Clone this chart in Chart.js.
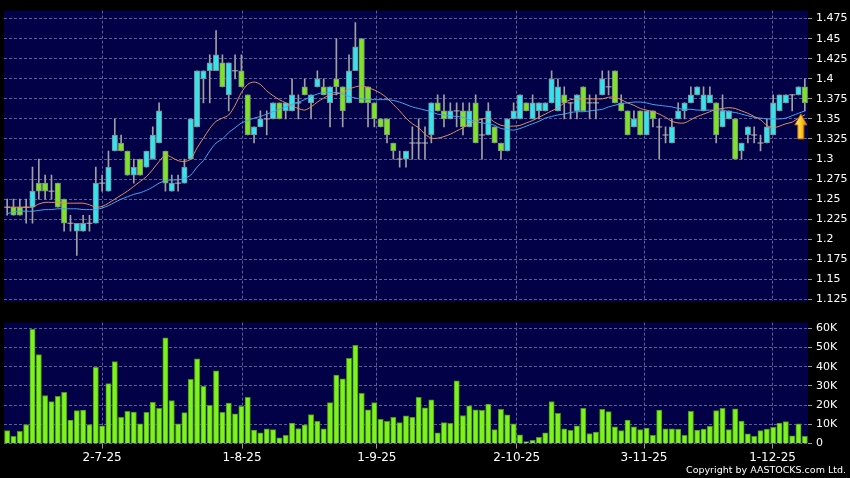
<!DOCTYPE html>
<html><head><meta charset="utf-8">
<script src="https://cdn.jsdelivr.net/npm/chart.js@4.4.1/dist/chart.umd.min.js"></script>
<style>
html,body{margin:0;padding:0;background:#000;width:850px;height:478px;overflow:hidden}
#wrap{position:relative;width:850px;height:478px;background:#000}
canvas{position:absolute;left:0}
#c1{top:0}
#c2{top:312px}
#copy{position:absolute;right:4px;top:464px;color:#fff;font:9.5px "DejaVu Sans",sans-serif;white-space:nowrap}
</style></head><body>
<div id="wrap">
<canvas id="c1" width="850" height="312"></canvas>
<canvas id="c2" width="850" height="166"></canvas>
<div id="copy">Copyright by AASTOCKS.com Ltd.</div>
</div>
<script>
const openP = [
1.24,1.24,1.24,1.24,1.24,1.27,1.27,1.26,1.27,1.25,
1.22,1.21,1.21,1.22,1.22,1.27,1.26,1.31,1.32,1.31,
1.28,1.30,1.29,1.30,1.32,1.31,1.26,1.27,1.27,1.30,
1.34,1.40,1.41,1.41,1.42,1.38,1.41,1.41,1.38,1.33,
1.34,1.35,1.35,1.37,1.36,1.36,1.37,1.39,1.37,1.39,
1.39,1.37,1.40,1.39,1.37,1.41,1.45,1.39,1.37,1.35,
1.35,1.32,1.30,1.30,1.32,1.32,1.32,1.33,1.37,1.36,
1.35,1.36,1.36,1.34,1.37,1.33,1.33,1.34,1.32,1.31,
1.35,1.35,1.37,1.35,1.36,1.36,1.37,1.36,1.38,1.37,
1.36,1.39,1.37,1.37,1.38,1.39,1.41,1.37,1.36,1.34,
1.36,1.33,1.36,1.34,1.33,1.32,1.35,1.36,1.37,1.38,
1.36,1.37,1.37,1.34,1.35,1.35,1.31,1.33,1.33,1.32,
1.32,1.33,1.36,1.37,1.38,1.38,1.39];
const highP = [
1.25,1.25,1.25,1.25,1.29,1.30,1.28,1.28,1.27,1.25,
1.23,1.22,1.23,1.23,1.29,1.28,1.31,1.35,1.33,1.31,
1.30,1.30,1.31,1.34,1.37,1.31,1.28,1.28,1.30,1.35,
1.41,1.41,1.43,1.46,1.43,1.42,1.43,1.43,1.38,1.34,
1.36,1.36,1.37,1.37,1.37,1.40,1.38,1.40,1.38,1.41,
1.40,1.39,1.45,1.39,1.43,1.47,1.45,1.39,1.37,1.35,
1.35,1.32,1.31,1.31,1.34,1.35,1.34,1.37,1.38,1.38,
1.37,1.37,1.37,1.37,1.38,1.35,1.37,1.34,1.32,1.35,
1.37,1.38,1.37,1.38,1.37,1.37,1.41,1.40,1.39,1.37,
1.38,1.39,1.38,1.38,1.41,1.41,1.41,1.38,1.36,1.36,
1.36,1.36,1.36,1.35,1.34,1.35,1.37,1.37,1.39,1.39,
1.39,1.39,1.37,1.38,1.36,1.35,1.32,1.34,1.34,1.33,
1.35,1.38,1.38,1.38,1.38,1.39,1.40];
const lowP = [
1.23,1.23,1.23,1.22,1.22,1.25,1.25,1.25,1.24,1.21,
1.21,1.18,1.21,1.21,1.22,1.26,1.26,1.31,1.31,1.28,
1.27,1.28,1.29,1.30,1.32,1.26,1.26,1.26,1.27,1.30,
1.34,1.37,1.37,1.41,1.39,1.36,1.40,1.39,1.33,1.32,
1.34,1.33,1.35,1.35,1.35,1.36,1.35,1.38,1.35,1.39,
1.38,1.34,1.38,1.34,1.37,1.41,1.37,1.34,1.34,1.34,
1.32,1.30,1.29,1.29,1.30,1.30,1.30,1.32,1.36,1.34,
1.35,1.34,1.33,1.34,1.32,1.30,1.33,1.32,1.30,1.31,
1.35,1.35,1.36,1.35,1.35,1.36,1.37,1.36,1.35,1.35,
1.35,1.36,1.35,1.35,1.38,1.38,1.37,1.36,1.33,1.34,
1.33,1.33,1.34,1.30,1.32,1.32,1.35,1.35,1.37,1.38,
1.36,1.37,1.32,1.34,1.35,1.30,1.30,1.32,1.32,1.31,
1.32,1.33,1.36,1.37,1.36,1.38,1.36];
const closeP = [
1.24,1.23,1.23,1.24,1.26,1.26,1.26,1.26,1.24,1.22,
1.22,1.22,1.22,1.22,1.27,1.27,1.29,1.33,1.31,1.28,
1.29,1.28,1.31,1.33,1.36,1.27,1.27,1.27,1.29,1.35,
1.41,1.41,1.42,1.43,1.39,1.42,1.41,1.39,1.33,1.34,
1.35,1.35,1.37,1.35,1.37,1.38,1.37,1.38,1.38,1.40,
1.38,1.39,1.39,1.36,1.41,1.44,1.37,1.37,1.35,1.34,
1.33,1.31,1.30,1.31,1.32,1.32,1.32,1.37,1.36,1.35,
1.36,1.36,1.34,1.36,1.32,1.33,1.36,1.32,1.31,1.35,
1.36,1.38,1.36,1.37,1.37,1.37,1.40,1.39,1.37,1.37,
1.38,1.36,1.37,1.37,1.40,1.39,1.37,1.36,1.33,1.35,
1.33,1.36,1.35,1.34,1.33,1.34,1.36,1.37,1.38,1.39,
1.38,1.38,1.33,1.36,1.36,1.30,1.32,1.34,1.33,1.32,
1.34,1.37,1.38,1.38,1.38,1.39,1.37];
const volume = [
6700,3700,6300,9900,59500,46400,25000,21800,24600,26600,
12200,17100,17400,9900,39700,9200,31200,42700,13600,16700,
16400,10200,16200,21400,18300,55000,22400,10200,16100,33400,
44100,29800,19900,37900,16200,21100,15400,19400,24000,7000,
5500,7700,7200,3000,4200,10700,7800,9700,15100,11600,
7700,21300,35700,33700,44400,51100,26200,17600,21300,12600,
11600,13700,10900,14400,13700,24100,18600,22800,5500,10900,
10500,32700,14600,19600,17600,17300,20600,7200,17800,14900,
10200,4500,1000,1700,3200,5500,21900,15700,7700,6800,
9200,18300,5200,6000,17800,16600,8700,6700,12200,8700,
7300,8000,4300,17400,7700,7700,7500,4200,16700,7000,
7500,9000,17100,18300,7200,18100,11700,5000,3700,6700,
7500,8400,10700,11400,4000,10200,3800];
const ma10 = [
1.24,1.24,1.24,1.24,1.24,1.244,1.246,1.246,1.246,1.245,
1.245,1.245,1.245,1.243,1.24,1.241,1.245,1.25,1.255,1.26,
1.266,1.272,1.278,1.287,1.297,1.305,1.302,1.298,1.297,1.30,
1.314,1.326,1.338,1.347,1.351,1.355,1.367,1.383,1.393,1.396,
1.393,1.385,1.379,1.374,1.37,1.366,1.363,1.361,1.365,1.371,
1.376,1.38,1.381,1.383,1.387,1.39,1.391,1.389,1.386,1.382,
1.376,1.368,1.36,1.351,1.344,1.339,1.331,1.326,1.326,1.328,
1.331,1.335,1.339,1.344,1.347,1.35,1.351,1.346,1.342,1.341,
1.341,1.342,1.345,1.348,1.352,1.356,1.36,1.364,1.37,1.374,
1.375,1.375,1.375,1.375,1.375,1.377,1.377,1.374,1.37,1.367,
1.363,1.361,1.359,1.356,1.352,1.347,1.345,1.345,1.349,1.353,
1.356,1.359,1.362,1.363,1.364,1.363,1.36,1.357,1.353,1.349,
1.342,1.339,1.341,1.344,1.346,1.351,1.355];
const ma20 = [
1.232,1.234,1.235,1.235,1.235,1.236,1.237,1.237,1.238,1.238,
1.238,1.238,1.237,1.237,1.237,1.239,1.242,1.246,1.25,1.253,
1.256,1.258,1.261,1.265,1.27,1.273,1.274,1.274,1.276,1.28,
1.29,1.298,1.31,1.32,1.325,1.333,1.339,1.345,1.348,1.351,
1.353,1.356,1.359,1.362,1.365,1.368,1.371,1.374,1.378,1.381,
1.383,1.383,1.383,1.381,1.378,1.376,1.375,1.374,1.374,1.374,
1.374,1.373,1.371,1.368,1.365,1.363,1.361,1.359,1.356,1.355,
1.354,1.353,1.352,1.349,1.347,1.345,1.344,1.342,1.338,1.337,
1.336,1.338,1.341,1.344,1.347,1.351,1.353,1.355,1.356,1.358,
1.359,1.359,1.36,1.361,1.362,1.365,1.367,1.369,1.37,1.371,
1.371,1.37,1.368,1.367,1.366,1.365,1.363,1.362,1.362,1.361,
1.361,1.361,1.361,1.361,1.359,1.358,1.356,1.354,1.352,1.351,
1.35,1.35,1.35,1.351,1.354,1.357,1.36];
const tickPos = [15.0, 37.1, 58.4, 80.5, 100.6, 120.9];
const tickLabels = ['2-7-25','1-8-25','1-9-25','2-10-25','3-11-25','1-12-25'];
const priceTicks = [1.125,1.15,1.175,1.2,1.225,1.25,1.275,1.3,1.325,1.35,1.375,1.4,1.425,1.45,1.475];
const volTicks = [0,10000,20000,30000,40000,50000,60000];

const UP = '#35e3ef', DOWN = '#7ee322', GRID = '#5e5e96', TICK = '#9a9a9a';
const N = closeP.length;

const bgPlugin = {id:'bg', beforeDraw(c){
  const {ctx, chartArea:a} = c;
  ctx.save();
  ctx.fillStyle = '#000'; ctx.fillRect(0,0,c.width,c.height);
  ctx.fillStyle = '#020046'; ctx.fillRect(a.left,a.top,a.right-a.left,a.bottom-a.top);
  ctx.restore();
}};
const arrowPlugin = {id:'arrow', afterDatasetsDraw(c){
  const ctx = c.ctx, xs = c.scales.x, ys = c.scales.y, n = N-1;
  const cx = xs.getPixelForValue(n) - 4;
  const top = ys.getPixelForValue(lowP[n]) + 3;
  const head = top + 11, bot = top + 25;
  ctx.save();
  const g = ctx.createLinearGradient(cx-6,0,cx+6,0);
  g.addColorStop(0,'#ffe98a'); g.addColorStop(0.5,'#ffc928'); g.addColorStop(1,'#d98a00');
  ctx.fillStyle = g; ctx.strokeStyle = '#b86e00'; ctx.lineWidth = 1;
  ctx.beginPath();
  ctx.moveTo(cx, top); ctx.lineTo(cx+6, head); ctx.lineTo(cx+3, head); ctx.lineTo(cx+3, bot);
  ctx.lineTo(cx-3, bot); ctx.lineTo(cx-3, head); ctx.lineTo(cx-6, head); ctx.closePath();
  ctx.fill(); ctx.stroke();
  ctx.restore();
}};

const bodies = [], bodyColors = [], dojis = [], wicks = [];
for (let i = 0; i < N; i++) {
  wicks.push({x:i, y:[lowP[i], highP[i]]});
  if (closeP[i] === openP[i]) dojis.push({x:i, y:closeP[i]});
  else { bodies.push({x:i, y:[openP[i], closeP[i]]}); bodyColors.push(closeP[i] > openP[i] ? UP : DOWN); }
}

const font11 = {family:'"DejaVu Sans", sans-serif', size:11};

new Chart(document.getElementById('c1'), {
  type:'bar',
  data:{datasets:[
    {type:'line', data: ma10.map((v,i)=>({x:i,y:v})), borderColor:'#e0905c', borderWidth:1, pointRadius:0, tension:0.3, order:0},
    {type:'line', data: ma20.map((v,i)=>({x:i,y:v})), borderColor:'#3ea8f0', borderWidth:1, pointRadius:0, tension:0.3, order:0},
    {type:'scatter', data: dojis, pointStyle:'line', pointRadius:3, borderColor:'#b8b8b8', borderWidth:1, order:1},
    {type:'bar', data: bodies, backgroundColor: bodyColors, borderColor:'#7d8b8b', borderWidth:1, borderSkipped:false, barThickness:5.5, grouped:false, order:2},
    {type:'bar', data: wicks, backgroundColor:'#a0a0a0', barThickness:1, grouped:false, order:3}
  ]},
  options:{
    responsive:false, animation:false, devicePixelRatio:1,
    layout:{padding:{left:4, top:5, right:0, bottom:6}, autoPadding:false},
    plugins:{legend:{display:false}, tooltip:{enabled:false}},
    scales:{
      x:{type:'linear', min:-0.5, max:N-0.5, offset:false,
        afterBuildTicks: s => { s.ticks = tickPos.map(v=>({value:v})); },
        ticks:{display:false},
        grid:{color:GRID, drawTicks:false, offset:false},
        border:{display:false, dash:[3,2]},
        afterFit: s => { s.height = 0; }
      },
      y:{type:'linear', position:'right', min:1.1226, max:1.485,
        afterBuildTicks: s => { s.ticks = priceTicks.map(v=>({value:v})); },
        ticks:{color:'#fff', font:font11, padding:4, callback: v => String(+(+v).toFixed(3))},
        grid:{color:GRID, tickColor:TICK, tickLength:4, tickBorderDash:[]},
        border:{display:false, dash:[3,2]},
        afterFit: s => { s.width = 42; }
      }
    }
  },
  plugins:[bgPlugin, arrowPlugin]
});

new Chart(document.getElementById('c2'), {
  type:'bar',
  data:{datasets:[
    {data: volume.map((v,i)=>({x:i,y:v})), backgroundColor:'#7df21c', borderColor:'#4a9418', borderWidth:1, barThickness:5.3, grouped:false}
  ]},
  options:{
    responsive:false, animation:false, devicePixelRatio:1,
    layout:{padding:{left:4, top:6, right:0, bottom:0}, autoPadding:false},
    plugins:{legend:{display:false}, tooltip:{enabled:false}},
    scales:{
      x:{type:'linear', min:-0.5, max:N-0.5, offset:false,
        afterBuildTicks: s => { s.ticks = tickPos.map(v=>({value:v})); },
        ticks:{color:'#fff', font:{family:'"DejaVu Sans", sans-serif', size:12}, padding:2, maxRotation:0, autoSkip:false,
          callback: v => tickLabels[tickPos.indexOf(v)]},
        grid:{color:GRID, tickColor:TICK, tickLength:5, tickBorderDash:[], offset:false},
        border:{display:false, dash:[3,2]},
        afterFit: s => { s.height = 34.5; }
      },
      y:{type:'linear', position:'right', min:0, max:63000,
        afterBuildTicks: s => { s.ticks = volTicks.map(v=>({value:v})); },
        ticks:{color:'#fff', font:font11, padding:4, callback: v => v === 0 ? '0' : (v/1000) + 'K'},
        grid:{color:GRID, tickColor:TICK, tickLength:4, tickBorderDash:[]},
        border:{display:false, dash:[3,2]},
        afterFit: s => { s.width = 42; }
      }
    }
  },
  plugins:[bgPlugin]
});
</script>
</body></html>
